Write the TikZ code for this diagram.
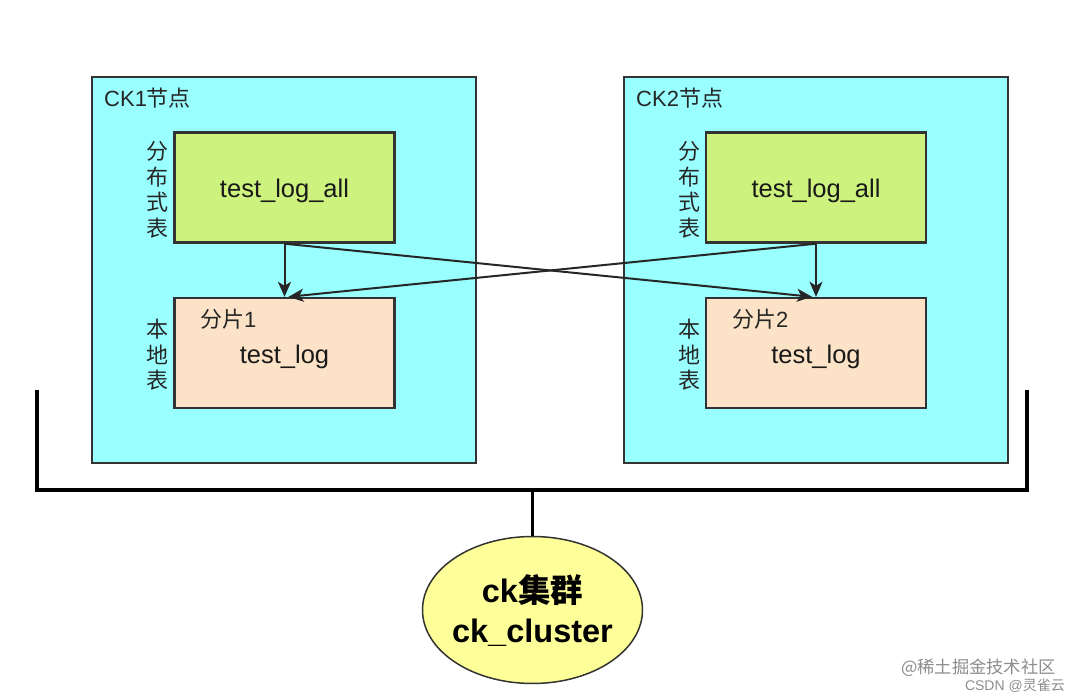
\documentclass[tikz,border=0pt]{standalone}
\usepackage{fontspec}
\setmainfont{Liberation Sans}
\newfontfamily\cjk{Noto Sans CJK SC}
\usetikzlibrary{shapes.geometric,arrows.meta}
\definecolor{nodecyan}{HTML}{99FFFF}
\definecolor{distgreen}{HTML}{CDF27E}
\definecolor{localpeach}{HTML}{FCE2C6}
\definecolor{clusteryellow}{HTML}{FFFF99}
\definecolor{edgegray}{HTML}{333333}
\tikzset{
  ckbox/.style={draw=edgegray, line width=2pt, fill=nodecyan, minimum width=384pt, minimum height=386pt, inner sep=0pt},
  distbox/.style={draw=edgegray, line width=2.4pt, fill=distgreen, minimum width=220pt, minimum height=110pt, inner sep=0pt},
  localbox/.style={draw=edgegray, line width=2.4pt, fill=localpeach, minimum width=220pt, minimum height=110pt, inner sep=0pt},
  bigtxt/.style={inner sep=0pt, font=\fontsize{25.5}{30}\selectfont, text=black!90},
  vlabel/.style={align=center, inner sep=0pt, font=\fontsize{22}{25.5}\selectfont\cjk, text=black!85},
  arr/.style={-{Stealth[length=15pt,width=13pt,inset=4pt]}, line width=2pt, draw=black!85},
  busline/.style={line width=3.2pt, draw=black},
  smalltxt/.style={inner sep=0pt, anchor=base west, font=\fontsize{22}{26}\selectfont, text=black!85},
}
\begin{document}
\begin{tikzpicture}[x=1pt,y=-1pt]
\useasboundingbox (0,0) rectangle (1080,700);
% node boxes
\node[ckbox] (ck1) at (284,270) {};
\node[ckbox] (ck2) at (815.5,270) {};
\node[smalltxt] (ck1t) at (104,107) {CK1{\cjk 节点}};
\node[smalltxt] (ck2t) at (636,107) {CK2{\cjk 节点}};
% tables
\node[distbox] (gl) at (284.5,187.5) {};
\node[distbox] (gr) at (816,187.5) {};
\node[bigtxt] (glt) at (284.5,190.5) {test\_log\_all};
\node[bigtxt] (grt) at (816,190.5) {test\_log\_all};
\node[localbox] (pl) at (284.5,353) {};
\node[localbox] (pr) at (816,353) {};
\node[bigtxt] (plt) at (284.5,357) {test\_log};
\node[bigtxt] (prt) at (816,357) {test\_log};
\node[smalltxt] (pl1) at (200,328) {{\cjk 分片}1};
\node[smalltxt] (pr1) at (732,328) {{\cjk 分片}2};
% vertical labels
\node[vlabel] (vl1) at (157,190) {分\\布\\式\\表};
\node[vlabel] (vl2) at (689,190) {分\\布\\式\\表};
\node[vlabel] (vl3) at (157,355) {本\\地\\表};
\node[vlabel] (vl4) at (689,355) {本\\地\\表};
% arrows
\draw[arr] (gl.south) -- (pl.north);
\draw[arr] (gr.south) -- (pr.north);
\draw[arr] (gl.south) -- ([xshift=-4pt]pr.north);
\draw[arr] (gr.south) -- ([xshift=4pt]pl.north);
% cluster
\node[ellipse, draw=edgegray, line width=1.5pt, fill=clusteryellow, minimum width=220pt, minimum height=147pt, inner sep=0pt] (ell) at (532.5,610) {};
\node[align=center, inner sep=0pt, font=\fontsize{32.5}{40}\selectfont\bfseries] (ellt) at (532.5,610) {ck{\cjk\bfseries 集群}\\ck\_cluster};
\coordinate (lt) at (37,390);
\coordinate (lb) at (37,490);
\coordinate (rt) at (1027,390);
\coordinate (rb) at (1027,490);
\coordinate (bus) at (532.5,490);
\draw[busline] (lt) -- (lb) -- (rb) -- (rt);
\draw[busline] (bus) -- (ell.north);
% watermark
\node[inner sep=0pt, anchor=base east, font=\fontsize{17.3}{20}\selectfont\cjk, text=black!45] (wm1) at (1056,673) {@稀土掘金技术社区};
\node[inner sep=0pt, anchor=base east, font=\fontsize{14}{18}\selectfont, text=black!45] (wm2) at (1065,690) {CSDN @{\cjk 灵雀云}};
\end{tikzpicture}
\end{document}
